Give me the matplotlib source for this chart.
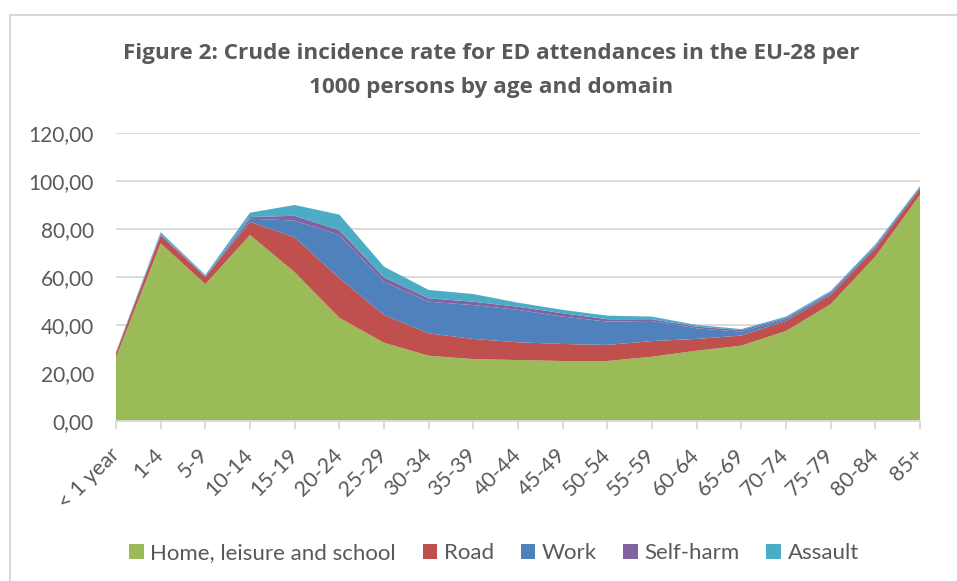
import matplotlib
matplotlib.use("Agg")
import matplotlib.pyplot as plt
from matplotlib.patches import Patch, Rectangle

# age groups and crude incidence rate per 1000 persons
ages = ["< 1 year", "1-4", "5-9", "10-14", "15-19", "20-24", "25-29", "30-34",
        "35-39", "40-44", "45-49", "50-54", "55-59", "60-64", "65-69", "70-74",
        "75-79", "80-84", "85+"]
home = [26.5, 74.0, 57.0, 77.5, 62.0, 43.0, 32.6, 27.2, 25.8, 25.4, 25.0, 25.0,
        26.8, 29.3, 31.4, 37.5, 48.7, 68.5, 94.2]
road = [1.8, 3.3, 3.0, 5.5, 14.5, 16.5, 11.6, 9.3, 8.4, 7.4, 7.1, 6.7, 6.5, 4.9,
        4.2, 4.2, 3.8, 3.4, 2.5]
work = [0.3, 0.5, 0.3, 1.3, 7.0, 18.0, 13.8, 13.2, 14.1, 13.5, 11.4, 9.7, 8.4,
        4.4, 1.6, 0.9, 0.8, 0.8, 0.6]
selfharm = [0.1, 0.3, 0.2, 0.7, 2.0, 2.0, 1.9, 1.4, 1.4, 1.3, 1.4, 1.0, 0.7, 0.7,
            0.7, 0.4, 0.4, 0.4, 0.3]
assault = [0.1, 0.6, 0.4, 1.8, 4.5, 6.5, 4.4, 3.5, 3.2, 1.7, 1.4, 1.5, 1.1, 0.7,
           0.4, 0.5, 0.5, 0.5, 0.3]

series = ["Home, leisure and school", "Road", "Work", "Self-harm", "Assault"]
colors = ["#9BBB59", "#C0504D", "#4F81BD", "#8064A2", "#4BACC6"]
yticks = [0, 20, 40, 60, 80, 100, 120]

txt = "#595959"
grid = "#D9D9D9"

fig = plt.figure(figsize=(9.57, 5.81), dpi=100)
ax = fig.add_axes([116 / 957, 160 / 581, 804 / 957, 288 / 581])

x = list(range(len(ages)))
ax.stackplot(x, home, road, work, selfharm, assault, colors=colors,
             linewidth=0, zorder=2)

ax.set_xlim(0, len(ages) - 1)
ax.set_ylim(0, 120)
ax.set_yticks(yticks)
ax.set_yticklabels([f"{v:.2f}".replace(".", ",") for v in yticks],
                   fontfamily="Lato", fontsize=15, color=txt)
ax.tick_params(axis="y", length=0, pad=16)
ax.grid(axis="y", color=grid, linewidth=1.3, zorder=0)

ax.set_xticks(x)
ax.set_xticklabels(ages, rotation=45, ha="right", va="center",
                   rotation_mode="anchor", fontfamily="Lato", fontsize=15.5,
                   color=txt)
ax.tick_params(axis="x", length=6, width=1.3, color=grid, pad=16)

for s in ["top", "right", "left"]:
    ax.spines[s].set_visible(False)
ax.spines["bottom"].set_color(grid)
ax.spines["bottom"].set_linewidth(1.3)

fig.text(491.5 / 957, 1 - 53 / 581,
         "Figure 2: Crude incidence rate for ED attendances in the EU-28 per",
         ha="center", va="center", fontfamily="Open Sans", fontweight="bold",
         fontsize=16.2, color=txt)
fig.text(491.5 / 957, 1 - 88 / 581, "1000 persons by age and domain",
         ha="center", va="center", fontfamily="Open Sans", fontweight="bold",
         fontsize=16.2, color=txt)

handles = [Patch(facecolor=c, edgecolor="none", label=l)
           for c, l in zip(colors, series)]
fig.legend(handles=handles, loc="center", ncol=5,
           bbox_to_anchor=(494 / 957, 1 - 553 / 581), frameon=False,
           prop={"family": "Lato", "size": 16}, labelcolor=txt,
           handlelength=0.65, handleheight=0.65, handletextpad=0.3,
           columnspacing=1.2)

# chart border (only the top and left edges are inside the picture)
fig.patches.append(Rectangle((10 / 957, -0.1), 1.2, 1.1 - 15 / 581,
                             transform=fig.transFigure, fill=False,
                             edgecolor=grid, linewidth=1.5))

fig.savefig("out.png", dpi=100)
